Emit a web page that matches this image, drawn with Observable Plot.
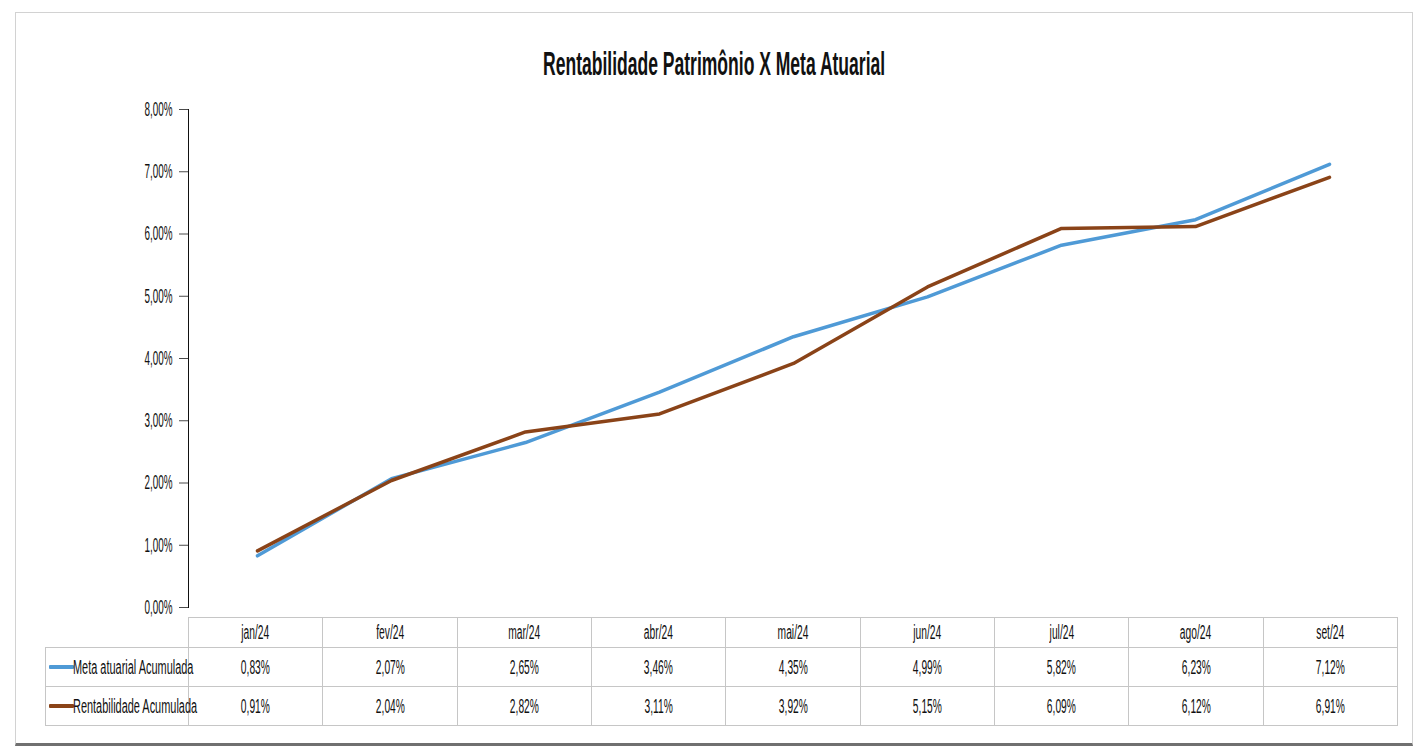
<!DOCTYPE html>
<html>
<head>
<meta charset="utf-8">
<script src="https://cdn.jsdelivr.net/npm/d3@7"></script>
<script src="https://cdn.jsdelivr.net/npm/@observablehq/plot@0.6"></script>
<style>
  html, body { margin: 0; padding: 0; background: #fff; }
  body { width: 1415px; height: 755px; overflow: hidden; position: relative;
         font-family: "Liberation Sans Narrow", "Liberation Sans", sans-serif; color: #111; }
  #frame { position: absolute; left: 15px; top: 12px; width: 1398px; height: 734px; box-sizing: border-box;
           border: 1px solid #d2d2d2; border-bottom: 3px solid #707070; }
  #title { position: absolute; left: 0; top: 44px; width: 1428px; text-align: center;
           font-weight: bold; font-size: 33px; line-height: 40px; white-space: nowrap; color: #111; }
  #title span { display: inline-block; transform-origin: 50% 50%; }
  #chart { position: absolute; left: 0; top: 0; }
  #tbl { position: absolute; left: 45px; top: 617px; border-collapse: collapse; table-layout: fixed; }
  #tbl td { border: 1px solid #c6c6c6; padding: 0; text-align: center; font-size: 20px; white-space: nowrap; overflow: visible; color: #111; }
  #tbl td span.v { display: inline-block; transform-origin: 50% 50%; }
  #tbl td.leg { text-align: left; position: relative; }
  #tbl td.leg span.sw { position: absolute; left: 3px; top: 50%; margin-top: -2px; width: 25px; height: 4px; border-radius: 1px; }
  #tbl td.leg span.t { position: absolute; left: 27px; top: 50%; transform-origin: 0 50%; line-height: 24px; margin-top: -12px; }
  #tbl tr.hd td { height: 29px; }
  #tbl tr.r1 td { height: 38px; }
  #tbl tr.r2 td { height: 38px; }
  #tbl td.blank { border-top: none; border-left: none; }
</style>
</head>
<body>
<div id="frame"></div>
<div id="title"><span>Rentabilidade Patrimônio X Meta Atuarial</span></div>
<div id="chart"></div>
<table id="tbl"></table>
<script>
// ---- data ----
const months = ["jan/24", "fev/24", "mar/24", "abr/24", "mai/24", "jun/24", "jul/24", "ago/24", "set/24"];
const metaAtuarial = [0.83, 2.07, 2.65, 3.46, 4.35, 4.99, 5.82, 6.23, 7.12];
const rentabilidade = [0.91, 2.04, 2.82, 3.11, 3.92, 5.15, 6.09, 6.12, 6.91];
const seriesNames = ["Meta atuarial Acumulada", "Rentabilidade Acumulada"];
const seriesColors = ["#4f9ad6", "#8a4318"];
const yTicks = [0, 1, 2, 3, 4, 5, 6, 7, 8];

const FAM = '"Liberation Sans Narrow", "Liberation Sans", sans-serif';
const fmt = v => v.toFixed(2).replace(".", ",") + "%";
const seriesValues = [metaAtuarial, rentabilidade];
const rows = seriesNames.flatMap((s, k) => months.map((m, i) => ({ serie: s, month: m, value: seriesValues[k][i] })));

// horizontal condensing so text widths match the (narrow) original
const FS = 20;
const ctx = document.createElement("canvas").getContext("2d");
function fit(sample, size, target, weight = "normal") {
  ctx.font = `${weight} ${size}px ${FAM}`;
  return target / ctx.measureText(sample).width;
}
const sTick = fit("8,00%", FS, 28);
const sVal = fit("0,83%", FS, 29);
const sMon = fit("jan/24", FS, 28);
const sLeg = fit("Meta atuarial Acumulada", FS, 121);

const W = 1415, ML = 188, MR = 18, MT = 109, PB = 607;
const chart = Plot.plot({
  width: W,
  height: PB + 13,
  marginLeft: ML,
  marginRight: MR,
  marginTop: MT,
  marginBottom: 13,
  style: { fontFamily: FAM, fontSize: FS + "px", color: "#111", background: "transparent", overflow: "visible" },
  x: { type: "point", domain: months, padding: 0.5, axis: null },
  y: { domain: [0, 8], ticks: yTicks, tickFormat: fmt, tickSize: 9, tickPadding: 7, line: true, label: null, grid: false },
  color: { domain: seriesNames, range: seriesColors },
  marks: [
    Plot.line(rows, { x: "month", y: "value", z: "serie", stroke: "serie", strokeWidth: 3.5, strokeLinejoin: "round", strokeLinecap: "round" })
  ]
});
document.getElementById("chart").appendChild(chart);

chart.querySelectorAll('g[aria-label="y-axis tick label"]').forEach(g => g.setAttribute("font-size", FS));
chart.querySelectorAll('g[aria-label="y-axis tick label"] text').forEach(t => {
  t.setAttribute("font-size", FS);
  t.setAttribute("fill", "#111");
  const tr = t.getAttribute("transform");
  if (tr) t.setAttribute("transform", tr + ` scale(${sTick},1)`);
  else {
    const x = +t.getAttribute("x") || 0, y = +t.getAttribute("y") || 0;
    t.removeAttribute("x"); t.removeAttribute("y");
    t.setAttribute("transform", `translate(${x},${y}) scale(${sTick},1)`);
  }
});
chart.querySelectorAll('g[aria-label="y-axis tick"], g[aria-label="frame"]').forEach(g => g.setAttribute("stroke", "#4a4a4a"));

// ---- data table under the chart ----
const colW = (W - MR - ML) / months.length;
const tbl = document.getElementById("tbl");
const cg = document.createElement("colgroup");
const c0 = document.createElement("col"); c0.style.width = (ML - 45) + "px"; cg.appendChild(c0);
months.forEach(() => { const c = document.createElement("col"); c.style.width = colW + "px"; cg.appendChild(c); });
tbl.appendChild(cg);
tbl.style.width = (ML - 45 + colW * months.length) + "px";

const hd = document.createElement("tr"); hd.className = "hd";
const b = document.createElement("td"); b.className = "blank"; hd.appendChild(b);
months.forEach(m => {
  const td = document.createElement("td");
  td.innerHTML = `<span class="v" style="transform:scaleX(${sMon})">${m}</span>`;
  hd.appendChild(td);
});
tbl.appendChild(hd);

seriesNames.forEach((s, k) => {
  const tr = document.createElement("tr"); tr.className = "r" + (k + 1);
  const lg = document.createElement("td"); lg.className = "leg";
  lg.innerHTML = `<span class="sw" style="background:${seriesColors[k]}"></span><span class="t" style="transform:scaleX(${sLeg})">${s}</span>`;
  tr.appendChild(lg);
  seriesValues[k].forEach(v => {
    const td = document.createElement("td");
    td.innerHTML = `<span class="v" style="transform:scaleX(${sVal})">${fmt(v)}</span>`;
    tr.appendChild(td);
  });
  tbl.appendChild(tr);
});

// fit title width to reference
const ts = document.querySelector("#title span");
const tw = ts.getBoundingClientRect().width;
ts.style.transform = `scaleX(${342 / tw})`;
</script>
</body>
</html>
